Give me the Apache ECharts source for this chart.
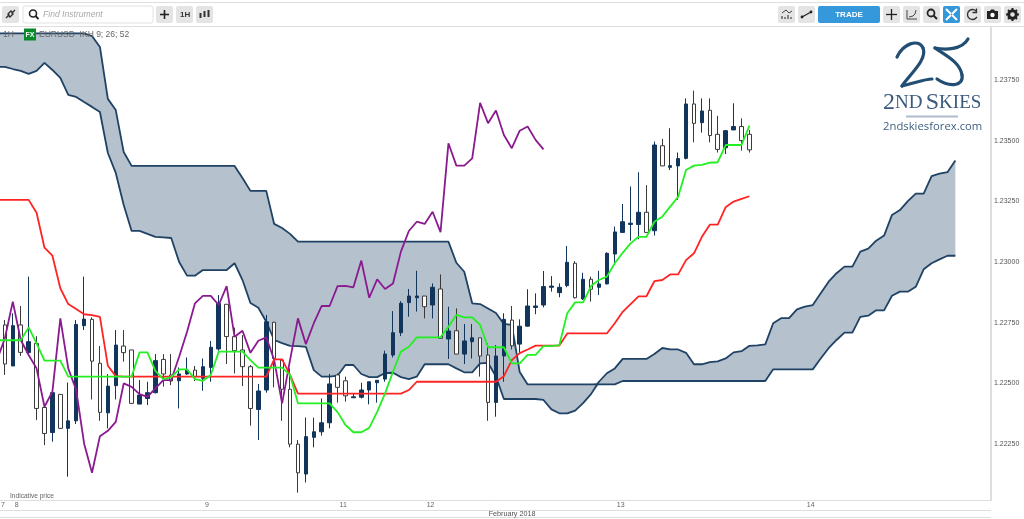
<!DOCTYPE html>
<html>
<head>
<meta charset="utf-8">
<title>EURUSD 1H Ichimoku</title>
<style>
  html, body { margin: 0; padding: 0; background: #fff; overflow: hidden; }
  #chart { width: 1024px; height: 519px; }
</style>
<script src="https://cdn.jsdelivr.net/npm/echarts@6/dist/echarts.min.js"></script>
</head>
<body>
<div id="chart"></div>
<script>
// first slot of every array is the bar that is cut off by the left edge
const opens = [null,
  1.22741,1.22572,1.22741,1.22627,1.22665,1.22401,1.22298,1.22455,1.22315,1.22346,
  1.22738,1.22764,1.22583,1.22379,1.22491,1.22654,1.22638,1.22415,1.22438,1.22462,
  1.22599,1.22535,1.22511,1.22539,1.22555,1.22521,1.22566,1.22642,1.22826,1.22693,
  1.22638,1.22569,1.22393,1.22473,1.22752,1.22596,1.22476,1.22250,1.22127,1.22278,
  1.22301,1.22338,1.22535,1.22511,1.22441,1.22443,1.22473,1.22503,1.22518,1.22617,
  1.22709,1.22833,1.22853,1.22860,1.22823,1.22889,1.22683,1.22717,1.22621,1.22672,
  1.22688,1.22617,1.22422,1.22613,1.22761,1.22662,1.22736,1.22813,1.22823,1.22896,
  1.22874,1.22903,1.22995,1.22848,1.22929,1.22896,1.22910,1.23033,1.23122,1.23155,
  1.23155,1.23205,1.23129,1.23479,1.23390,1.23396,1.23427,1.23651,1.23574,1.23625,
  1.23526,1.23471,1.23544,1.23558,1.23526];
const closes = [null,
  1.22580,1.22738,1.22628,1.22672,1.22397,1.22294,1.22462,1.22315,1.22346,1.22743,
  1.22765,1.22592,1.22381,1.22489,1.22658,1.22627,1.22418,1.22452,1.22462,1.22594,
  1.22539,1.22510,1.22539,1.22555,1.22528,1.22569,1.22649,1.22830,1.22693,1.22635,
  1.22569,1.22397,1.22469,1.22754,1.22603,1.22476,1.22250,1.22132,1.22281,1.22301,
  1.22338,1.22498,1.22484,1.22449,1.22445,1.22473,1.22507,1.22513,1.22621,1.22709,
  1.22830,1.22860,1.22860,1.22816,1.22896,1.22686,1.22716,1.22621,1.22675,1.22688,
  1.22613,1.22422,1.22613,1.22764,1.22655,1.22736,1.22819,1.22819,1.22899,1.22901,
  1.22896,1.22999,1.22853,1.22929,1.22888,1.22910,1.23036,1.23124,1.23166,1.23160,
  1.23205,1.23122,1.23482,1.23396,1.23397,1.23426,1.23651,1.23571,1.23622,1.23521,
  1.23464,1.23541,1.23558,1.23500,1.23462];
const lows = [null,
  1.22535,1.22572,1.22613,1.22624,1.22349,1.22246,1.22260,1.22312,1.22116,1.22333,
  1.22720,1.22434,1.22346,1.22315,1.22434,1.22590,1.22415,1.22415,1.22411,1.22459,
  1.22487,1.22493,1.22397,1.22535,1.22510,1.22470,1.22507,1.22635,1.22580,1.22541,
  1.22489,1.22326,1.22267,1.22462,1.22484,1.22346,1.22237,1.22050,1.22092,1.22237,
  1.22285,1.22315,1.22421,1.22425,1.22441,1.22438,1.22414,1.22421,1.22507,1.22607,
  1.22695,1.22775,1.22796,1.22768,1.22768,1.22686,1.22601,1.22621,1.22580,1.22603,
  1.22528,1.22346,1.22363,1.22507,1.22640,1.22621,1.22734,1.22785,1.22813,1.22878,
  1.22855,1.22896,1.22850,1.22844,1.22837,1.22864,1.22908,1.22995,1.23122,1.23088,
  1.23094,1.23121,1.23109,1.23396,1.23379,1.23256,1.23423,1.23493,1.23533,1.23493,
  1.23451,1.23445,1.23544,1.23459,1.23451];
const highs = [null,
  1.22761,1.22789,1.22819,1.22940,1.22695,1.22404,1.22462,1.22455,1.22504,1.22761,
  1.22940,1.22772,1.22654,1.22539,1.22720,1.22720,1.22638,1.22514,1.22507,1.22621,
  1.22621,1.22621,1.22566,1.22607,1.22572,1.22603,1.22675,1.22864,1.22826,1.22730,
  1.22699,1.22576,1.22498,1.22782,1.22754,1.22601,1.22562,1.22267,1.22360,1.22359,
  1.22438,1.22539,1.22541,1.22528,1.22459,1.22503,1.22507,1.22513,1.22635,1.22798,
  1.22839,1.22889,1.22964,1.22860,1.22912,1.22949,1.22816,1.22809,1.22745,1.22745,
  1.22688,1.22665,1.22658,1.22789,1.22819,1.22764,1.22888,1.22871,1.22963,1.22942,
  1.22912,1.23066,1.23004,1.22956,1.22940,1.22964,1.23040,1.23146,1.23239,1.23311,
  1.23370,1.23317,1.23496,1.23507,1.23551,1.23451,1.23674,1.23706,1.23674,1.23674,
  1.23602,1.23544,1.23654,1.23592,1.23544];

const tenkan = [
  1.22678,1.22678,1.22678,1.22678,1.22731,1.22665,1.22594,1.22594,1.22594,1.22528,
  1.22528,1.22528,1.22528,1.22528,1.22528,1.22528,1.22528,1.22528,1.22628,1.22628,
  1.22552,1.22518,1.22526,1.22558,1.22558,1.22518,1.22511,1.22535,1.22631,1.22631,
  1.22631,1.22631,1.22596,1.22565,1.22565,1.22565,1.22565,1.22535,1.22418,1.22418,
  1.22418,1.22418,1.22418,1.22382,1.22329,1.22299,1.22299,1.22317,1.22383,1.22459,
  1.22548,1.22631,1.22651,1.22690,1.22690,1.22690,1.22690,1.22734,1.22782,1.22772,
  1.22772,1.22741,1.22649,1.22649,1.22649,1.22583,1.22583,1.22618,1.22618,1.22654,
  1.22654,1.22658,1.22789,1.22834,1.22834,1.22901,1.22926,1.22940,1.22995,1.23038,
  1.23077,1.23104,1.23104,1.23166,1.23187,1.23228,1.23269,1.23379,1.23397,1.23400,
  1.23409,1.23411,1.23482,1.23482,1.23482,1.23562];
const kijun = [
  1.23256,1.23256,1.23256,1.23256,1.23256,1.23203,1.23059,1.23026,1.22892,1.22827,
  1.22807,1.22785,1.22781,1.22774,1.22573,1.22530,1.22528,1.22528,1.22528,1.22528,
  1.22528,1.22528,1.22528,1.22528,1.22528,1.22528,1.22528,1.22528,1.22528,1.22528,
  1.22528,1.22528,1.22528,1.22528,1.22528,1.22599,1.22599,1.22535,1.22458,1.22458,
  1.22458,1.22458,1.22458,1.22458,1.22458,1.22458,1.22458,1.22458,1.22458,1.22458,
  1.22458,1.22458,1.22473,1.22507,1.22507,1.22507,1.22507,1.22507,1.22507,1.22507,
  1.22507,1.22507,1.22507,1.22507,1.22530,1.22596,1.22625,1.22640,1.22656,1.22656,
  1.22656,1.22656,1.22706,1.22706,1.22706,1.22706,1.22706,1.22706,1.22748,1.22795,
  1.22827,1.22859,1.22859,1.22921,1.22926,1.22949,1.22949,1.23008,1.23036,1.23104,
  1.23154,1.23154,1.23226,1.23249,1.23260,1.23271];
const chikou = [
  1.22596,1.22686,1.22837,1.22679,1.22617,1.22562,1.22404,1.22466,1.22768,1.22562,
  1.22473,1.22253,1.22132,1.22283,1.22305,1.22342,1.22500,1.22486,1.22456,1.22445,
  1.22480,1.22514,1.22514,1.22610,1.22713,1.22830,1.22861,1.22861,1.22823,1.22901,
  1.22692,1.22717,1.22626,1.22676,1.22690,1.22596,1.22418,1.22596,1.22768,1.22662,
  1.22748,1.22819,1.22819,1.22901,1.22902,1.22896,1.23006,1.22853,1.22929,1.22889,
  1.22912,1.23043,1.23128,1.23166,1.23157,1.23207,1.23123,1.23489,1.23397,1.23397,
  1.23427,1.23656,1.23572,1.23624,1.23523,1.23469,1.23541,1.23558,1.23503,1.23464];
const spanA = [
  1.23942,1.23942,1.23942,1.23942,1.23942,1.23942,1.23942,1.23942,1.23942,1.23942,
  1.23942,1.23942,1.23931,1.23886,1.23672,1.23626,1.23453,1.23396,1.23396,1.23396,
  1.23396,1.23396,1.23396,1.23396,1.23396,1.23396,1.23396,1.23396,1.23396,1.23396,
  1.23396,1.23346,1.23293,1.23293,1.23293,1.23157,1.23140,1.23116,1.23084,1.23084,
  1.23084,1.23084,1.23084,1.23084,1.23084,1.23084,1.23084,1.23084,1.23084,1.23084,
  1.23084,1.23084,1.23084,1.23084,1.23084,1.23084,1.23084,1.23084,1.22997,1.22960,
  1.22830,1.22827,1.22809,1.22790,1.22745,1.22741,1.22547,1.22496,1.22496,1.22496,
  1.22496,1.22496,1.22496,1.22496,1.22496,1.22496,1.22496,1.22496,1.22496,1.22510,
  1.22510,1.22510,1.22510,1.22510,1.22510,1.22510,1.22510,1.22510,1.22510,1.22510,
  1.22510,1.22510,1.22510,1.22510,1.22510,1.22510,1.22510,1.22510,1.22558,1.22558,
  1.22558,1.22558,1.22558,1.22558,1.22603,1.22645,1.22679,1.22709,1.22709,1.22774,
  1.22779,1.22801,1.22801,1.22861,1.22878,1.22878,1.22898,1.22970,1.22995,1.23011,
  1.23026,1.23026];
const spanB = [
  1.23804,1.23804,1.23795,1.23787,1.23775,1.23787,1.23820,1.23791,1.23758,1.23688,
  1.23680,1.23659,1.23639,1.23618,1.23449,1.23367,1.23235,1.23128,1.23128,1.23116,
  1.23104,1.23102,1.23099,1.23000,1.22944,1.22944,1.22967,1.22967,1.22967,1.22967,
  1.22995,1.22926,1.22831,1.22812,1.22754,1.22679,1.22666,1.22655,1.22654,1.22651,
  1.22555,1.22528,1.22528,1.22532,1.22576,1.22576,1.22539,1.22526,1.22526,1.22543,
  1.22544,1.22526,1.22518,1.22528,1.22579,1.22579,1.22579,1.22579,1.22562,1.22546,
  1.22546,1.22583,1.22585,1.22528,1.22436,1.22436,1.22436,1.22436,1.22436,1.22432,
  1.22393,1.22377,1.22377,1.22388,1.22419,1.22456,1.22507,1.22542,1.22562,1.22601,
  1.22601,1.22601,1.22601,1.22621,1.22646,1.22640,1.22640,1.22626,1.22579,1.22579,
  1.22588,1.22591,1.22603,1.22628,1.22633,1.22655,1.22657,1.22661,1.22748,1.22769,
  1.22769,1.22805,1.22816,1.22823,1.22871,1.22919,1.22954,1.22981,1.22981,1.23043,
  1.23055,1.23088,1.23109,1.23194,1.23214,1.23251,1.23282,1.23282,1.23354,1.23364,
  1.23370,1.23418];

const barCount = 126;
const categories = Array.from({ length: barCount }, (_, k) => String(k));
const dayTickBars = [2, 26, 43, 54, 78, 102];
const dayTickLabels = ["8", "9", "11", "12", "13", "14"];
const priceTicks = [1.2225, 1.225, 1.2275, 1.23, 1.2325, 1.235, 1.2375];

const navy = "#12355b";
const cloudEdge = "#1f4265";
const cloudFill = "#b5c1cd";
const chromeLine = "#dedede";
const fontName = "Liberation Sans";

const candles = opens.map((o, k) => (o === null ? "-" : [o, closes[k], lows[k], highs[k]]));
const cloudBase = spanA.map((a, k) => Math.min(a, spanB[k]));
const cloudBand = spanA.map((a, k) => Math.abs(a - spanB[k]));

function box(x, y, w, h, fill, stroke) {
  return { type: "rect", shape: { x, y, width: w, height: h, r: 2 }, style: { fill, stroke: stroke || null }, silent: true };
}
function seg(x1, y1, x2, y2, stroke, lineWidth) {
  return { type: "line", shape: { x1, y1, x2, y2 }, style: { stroke, lineWidth: lineWidth || 1 }, silent: true };
}
function label(x, y, text, size, fill, extra) {
  return {
    type: "text", x, y, z: 20, silent: true,
    style: Object.assign({ text, fontSize: size, fill, fontFamily: fontName, verticalAlign: "middle" }, extra || {})
  };
}
function dot(cx, cy, r, fill) {
  return { type: "circle", shape: { cx, cy, r }, style: { fill }, silent: true };
}
function ringIcon(cx, cy, r, stroke, lineWidth) {
  return { type: "circle", shape: { cx, cy, r }, style: { stroke, lineWidth, fill: null }, silent: true };
}
function poly(points, stroke, lineWidth) {
  return { type: "polyline", shape: { points }, style: { stroke, lineWidth: lineWidth || 1.5, fill: null }, silent: true };
}
function curve(x1, y1, cpx1, cpy1, cpx2, cpy2, x2, y2) {
  return {
    type: "bezierCurve", shape: { x1, y1, cpx1, cpy1, cpx2, cpy2, x2, y2 },
    style: { stroke: "#234e74", lineWidth: 3.2, lineCap: "round", fill: null }, silent: true
  };
}

const chrome = [
  seg(0, 2.5, 1024, 2.5, chromeLine, 1),
  seg(0, 26.5, 1024, 26.5, chromeLine, 1),
  box(2, 6, 17, 17, "#e4e4e4"),
  poly([[6, 18], [9, 15], [8, 14], [11, 11], [13, 13]], "#333", 1.4),
  poly([[15, 10], [12, 13], [13, 14], [10, 17], [8, 15]], "#333", 1.4),
  box(23, 6, 130, 17, "#fff", "#e2e2e2"),
  ringIcon(33, 13.5, 3.5, "#222", 1.6),
  seg(35.5, 16, 38.5, 19, "#222", 1.8),
  label(43, 14.5, "Find Instrument", 8.6, "#a8a8a8", { fontStyle: "italic" }),
  box(156, 6, 17, 17, "#e4e4e4"),
  seg(160, 14.5, 169, 14.5, "#222", 1.6),
  seg(164.5, 10, 164.5, 19, "#222", 1.6),
  box(176, 6, 17, 17, "#e4e4e4"),
  label(180, 14.5, "1H", 8, "#333", { fontWeight: "bold" }),
  box(196, 6, 17, 17, "#e4e4e4"),
  seg(200.5, 13, 200.5, 18, "#333", 2),
  seg(204.5, 11, 204.5, 17, "#333", 2),
  seg(208.5, 10, 208.5, 17, "#333", 2),
  box(778, 6, 17, 17, "#e4e4e4"),
  poly([[782, 13], [786, 10], [789, 13], [792, 11]], "#444", 1),
  seg(782, 19, 782, 16, "#444", 1.2),
  seg(785, 19, 785, 17, "#444", 1.2),
  seg(788, 19, 788, 15, "#444", 1.2),
  seg(791, 19, 791, 17, "#444", 1.2),
  box(798, 6, 17, 17, "#e4e4e4"),
  seg(802, 17, 811, 12, "#222", 1.3),
  dot(802, 17, 1.4, "#222"),
  dot(811, 12, 1.4, "#222"),
  box(818, 6, 62, 17, "#3498db"),
  label(849, 14.5, "TRADE", 8, "#fff", { fontWeight: "bold", align: "center" }),
  box(883, 6, 17, 17, "#e4e4e4"),
  seg(886, 14.5, 897, 14.5, "#222", 1.3),
  seg(891.5, 9, 891.5, 20, "#222", 1.3),
  box(903, 6, 17, 17, "#e4e4e4"),
  poly([[907, 10], [907, 19], [917, 19]], "#444", 1),
  poly([[909, 17], [913, 16], [915, 14], [916, 10]], "#444", 1),
  box(923, 6, 17, 17, "#e4e4e4"),
  ringIcon(931, 13, 3.5, "#222", 1.8),
  seg(933.5, 15.5, 937, 19, "#222", 2),
  box(943, 6, 17, 17, "#3498db"),
  seg(946, 9, 951, 14, "#fff", 2),
  seg(957, 9, 952, 14, "#fff", 2),
  seg(946, 20, 951, 15, "#fff", 2),
  seg(957, 20, 952, 15, "#fff", 2),
  box(964, 6, 17, 17, "#e4e4e4"),
  {
    type: "arc", shape: { cx: 972.5, cy: 14.5, r: 5, startAngle: -0.6, endAngle: 0.5, clockwise: false },
    style: { stroke: "#333", lineWidth: 1.3, fill: null }, silent: true
  },
  poly([[976.5, 8.5], [976.5, 12.5], [972.5, 12.5]], "#333", 1.3),
  box(984, 6, 17, 17, "#e4e4e4"),
  { type: "polygon", shape: { points: [[987, 11], [990, 11], [991, 9.5], [994, 9.5], [995, 11], [998, 11], [998, 19], [987, 19]] }, style: { fill: "#222" }, silent: true },
  dot(992.5, 15, 2.2, "#fff"),
  box(1004, 6, 17, 17, "#e4e4e4"),
  ringIcon(1012.5, 14.5, 3.8, "#222", 3),
  seg(1012.5, 8, 1012.5, 10, "#222", 2),
  seg(1012.5, 19, 1012.5, 21, "#222", 2),
  seg(1006, 14.5, 1008, 14.5, "#222", 2),
  seg(1017, 14.5, 1019, 14.5, "#222", 2),
  seg(1008, 10, 1009.4, 11.4, "#222", 2),
  seg(1015.6, 17.6, 1017, 19, "#222", 2),
  seg(1017, 10, 1015.6, 11.4, "#222", 2),
  seg(1009.4, 17.6, 1008, 19, "#222", 2),

  label(3, 34.5, "1H", 8.5, "#666"),
  { type: "rect", z: 20, shape: { x: 24, y: 28.5, width: 12, height: 12 }, style: { fill: "#0b8a2b" }, silent: true },
  label(30, 34.8, "FX", 7, "#fff", { fontWeight: "bold", align: "center" }),
  label(39, 34.5, "EURUSD  IKH 9; 26; 52", 8.5, "#666"),

  curve(897, 57, 903, 44, 918, 38, 923, 48),
  curve(923, 48, 928, 60, 908, 76, 902, 86),
  curve(902, 86, 915, 83, 925, 79, 932, 79),
  curve(968, 39, 962, 50, 945, 50, 935, 48),
  curve(935, 48, 945, 55, 960, 62, 962, 75),
  curve(962, 75, 964, 86, 950, 88, 937, 79),
  {
    type: "text", x: 883, y: 103, silent: true,
    style: {
      text: "{a|2}{b|ND} {a|S}{b|KIES}", fill: "#3a5a7d", verticalAlign: "middle",
      rich: {
        a: { fontFamily: "Liberation Serif", fontSize: 24, fill: "#3a5a7d" },
        b: { fontFamily: "Liberation Serif", fontSize: 19, fill: "#3a5a7d" }
      }
    }
  },
  seg(906, 116.5, 958, 116.5, "#aebccc", 2),
  label(883, 127, "2ndskiesforex.com", 11.3, "#3f5f80", { fontFamily: "Open Sans" }),

  label(10, 496, "Indicative price", 6.6, "#666"),
  seg(0, 510.5, 991, 510.5, chromeLine, 1),
  seg(0, 517.5, 991, 517.5, chromeLine, 1),
  label(1, 505.5, "7", 7, "#666"),
  label(512, 514, "February 2018", 7.2, "#555", { align: "center" })
];

const chart = echarts.init(document.getElementById("chart"));

chart.setOption({
  animation: false,
  backgroundColor: "#fff",
  textStyle: { fontFamily: fontName },
  graphic: chrome,
  grid: { left: -7, top: 27, width: 998, height: 473, outerBoundsMode: "none" },
  xAxis: {
    type: "category",
    data: categories,
    axisLine: { lineStyle: { color: chromeLine, width: 1 } },
    axisTick: {
      alignWithLabel: true,
      interval: (k) => dayTickBars.includes(k),
      length: 10,
      lineStyle: { color: chromeLine }
    },
    axisLabel: {
      interval: (k) => dayTickBars.includes(k),
      formatter: (v, k) => dayTickLabels[dayTickBars.indexOf(k)] || "",
      align: "left",
      margin: 2,
      padding: [0, 0, 0, 2],
      fontSize: 7,
      color: "#666"
    },
    splitLine: { show: false }
  },
  yAxis: {
    type: "value",
    position: "right",
    min: 1.2202,
    max: 1.23968,
    axisLine: { show: true, lineStyle: { color: chromeLine, width: 2 } },
    axisTick: { show: false },
    splitLine: { show: false },
    axisLabel: {
      customValues: priceTicks,
      formatter: (v) => v.toFixed(5),
      margin: 3,
      fontSize: 7,
      color: "#555"
    }
  },
  series: [
    {
      name: "cloud base", type: "line", stack: "cloud", data: cloudBase, z: 1,
      showSymbol: false, lineStyle: { width: 0 }, silent: true
    },
    {
      name: "cloud", type: "line", stack: "cloud", data: cloudBand, z: 1,
      showSymbol: false, lineStyle: { width: 0 }, areaStyle: { color: cloudFill, opacity: 1 }, silent: true
    },
    { name: "Senkou A", type: "line", data: spanA, z: 2, showSymbol: false, lineStyle: { color: cloudEdge, width: 1.8 } },
    { name: "Senkou B", type: "line", data: spanB, z: 2, showSymbol: false, lineStyle: { color: cloudEdge, width: 1.8 } },
    {
      name: "EURUSD", type: "candlestick", data: candles, barWidth: 4, z: 3,
      itemStyle: { color: navy, color0: "#fff", borderColor: navy, borderColor0: "#3a3a3a", borderColorDoji: navy, borderWidth: 1 }
    },
    { name: "Chikou", type: "line", data: chikou, z: 4, showSymbol: false, lineStyle: { color: "#8a1a8f", width: 1.8 } },
    { name: "Kijun", type: "line", data: kijun, z: 5, showSymbol: false, lineStyle: { color: "#ff2424", width: 1.8 } },
    { name: "Tenkan", type: "line", data: tenkan, z: 6, showSymbol: false, lineStyle: { color: "#22f022", width: 1.8 } }
  ]
});
</script>
</body>
</html>
